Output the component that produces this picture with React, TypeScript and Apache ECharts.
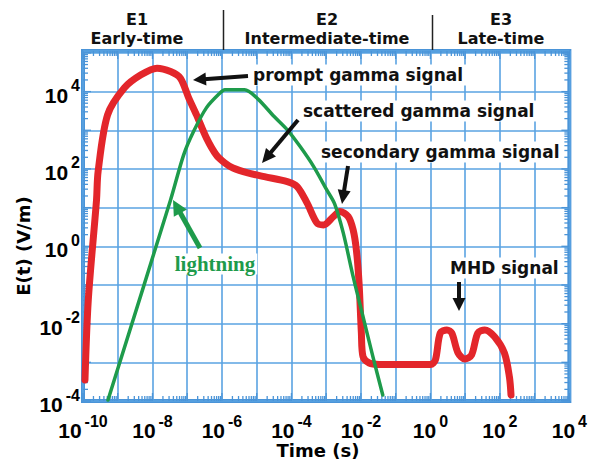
import React, { useEffect, useRef } from "react";
import * as echarts from "echarts";

// ---- data ----
const xMin = 1e-10;
const xMax = 1e4;
const yMin = 1e-4;
const yMax = 1.12e5;

const labeledXExponents = [-10, -8, -6, -4, -2, 0, 2, 4];
const labeledYExponents = [-4, -2, 0, 2, 4];

// red curve: prompt / scattered / secondary gamma + MHD
const redTime = [
  1.14e-10, 1.42e-10, 2.45e-10, 2.72e-10, 5.1e-10, 1.56e-9, 4.66e-9, 1.35e-8, 3.31e-8, 6.37e-8,
  1.1e-7, 1.85e-7, 3.56e-7, 6.84e-7, 1.21e-6, 2.08e-6, 5.55e-6, 1.66e-5, 7.6e-5, 1.46e-4,
  2.81e-4, 5.41e-4, 8.38e-4, 1.61e-3, 2.48e-3, 4.31e-3, 5.97e-3, 7.4e-3, 8.83e-3, 1.03e-2,
  1.15e-2, 1.73e-2, 3.33e-2, 1.0, 1.39, 1.92, 2.98, 4.13, 6.24, 9.86,
  15.3, 23.1, 36.6, 70.3, 135, 188, 209,
];
const redField = [
  3.5e-4, 0.041, 15.8, 85, 2500, 12500, 27100, 40400, 33000, 22200,
  6890, 2500, 635, 231, 143, 106, 79, 63, 47, 35,
  13.2, 4.0, 3.57, 5.85, 7.9, 5.85, 2.65, 0.8, 0.113, 0.0057,
  0.0014, 0.00096, 0.00088, 0.00088, 0.00115, 0.0057, 0.0069, 0.0057, 0.00175, 0.00122,
  0.00155, 0.0057, 0.0069, 0.0046, 0.00175, 0.00042, 0.000143,
];

// green curve: lightning
const greenTime = [
  5.24e-10, 3.31e-8, 7.9e-8, 1.52e-7, 3.56e-7, 8.71e-7, 1.21e-6, 4.48e-6, 1.07e-5, 3.18e-5,
  7.6e-5, 1.78e-4, 4.36e-4, 1.04e-3, 1.75e-3, 3.1e-3, 5.97e-3, 1.15e-2, 2.21e-2, 4.25e-2,
];
const greenField = [
  1.06e-4, 15.8, 231, 925, 3790, 9100, 11100, 11100, 6490, 2260,
  1023, 378, 115, 28.7, 12.5, 2.22, 0.164, 0.0151, 0.0014, 0.000143,
];

const regionCodes = ["E1", "E2", "E3"];
const regionNames = ["Early-time", "Intermediate-time", "Late-time"];

const annotationTexts = [
  "prompt gamma signal",
  "scattered gamma signal",
  "secondary gamma signal",
  "MHD signal",
];

// ---- helpers ----
const BLUE = "#4a94d8";
const GRID_BLUE = "#5aa3e2";
const RED = "#e3262b";
const GREEN = "#1e9b4b";

function expLabel(v: number, allowed: number[]) {
  const l = Math.log10(v);
  const e = Math.round(l);
  if (Math.abs(l - e) > 0.01 || allowed.indexOf(e) < 0) return "";
  return `{b|10}{s|${e}}`;
}

const richLabel = {
  b: {
    fontFamily: "Liberation Sans",
    fontWeight: "bold",
    fontSize: 21,
    color: "#000",
    lineHeight: 28,
    verticalAlign: "bottom",
  },
  s: {
    fontFamily: "Liberation Sans",
    fontWeight: "bold",
    fontSize: 16,
    color: "#000",
    lineHeight: 14,
    verticalAlign: "top",
    padding: [0, 0, 0, 3],
  },
};

function arrow(
  x1: number,
  y1: number,
  x2: number,
  y2: number,
  color: string,
  width: number,
  headLen: number,
  headW: number
) {
  const dx = x2 - x1;
  const dy = y2 - y1;
  const L = Math.hypot(dx, dy);
  const ux = dx / L;
  const uy = dy / L;
  const bx = x2 - ux * headLen;
  const by = y2 - uy * headLen;
  const px = -uy;
  const py = ux;
  return {
    type: "group",
    z: 100,
    children: [
      {
        type: "line",
        z: 100,
        shape: { x1, y1, x2: bx + ux * 2, y2: by + uy * 2 },
        style: { stroke: color, lineWidth: width },
      },
      {
        type: "polygon",
        z: 100,
        shape: {
          points: [
            [x2, y2],
            [bx + (px * headW) / 2, by + (py * headW) / 2],
            [bx - (px * headW) / 2, by - (py * headW) / 2],
          ],
        },
        style: { fill: color },
      },
    ],
  };
}

function buildTicks() {
  const out: number[][] = [];
  for (let k = -10; k <= 4; k++) {
    for (let m = 1; m <= 9; m++) {
      const v = m * Math.pow(10, k);
      if (v > xMax * 1.0001) break;
      const len = m === 1 ? 8 : 5;
      out.push([v, yMin, 0, -len]);
      out.push([v, yMax, 0, len]);
    }
  }
  for (let k = -4; k <= 5; k++) {
    for (let m = 1; m <= 9; m++) {
      const v = m * Math.pow(10, k);
      if (v > yMax) break;
      const len = m === 1 ? 8 : 5;
      out.push([xMin, v, len, 0]);
      out.push([xMax, v, -len, 0]);
    }
  }
  return out;
}

const annotationStyle = {
  fontFamily: "DejaVu Sans",
  fontWeight: "bold",
  fontSize: 17,
  fill: "#111",
  backgroundColor: "#fff",
  padding: [2, 3, 2, 3],
  align: "left",
  verticalAlign: "middle",
};

export default function App() {
  const ref = useRef<HTMLDivElement>(null);

  useEffect(() => {
    if (!ref.current) return;
    const chart = echarts.init(ref.current, undefined, { renderer: "svg" });

    const topLabelStyle = {
      fontFamily: "DejaVu Sans",
      fontWeight: "bold",
      fontSize: 16,
      fill: "#111",
      align: "center",
      verticalAlign: "middle",
    };
    const regionX = [137, 327, 501];

    const graphic: any[] = [];
    regionCodes.forEach((c, i) => {
      graphic.push({ type: "text", x: regionX[i], y: 19, style: { ...topLabelStyle, text: c } });
      graphic.push({
        type: "text",
        x: regionX[i],
        y: 38,
        style: { ...topLabelStyle, text: regionNames[i] },
      });
    });
    graphic.push({
      type: "line",
      shape: { x1: 223.5, y1: 10, x2: 223.5, y2: 50 },
      style: { stroke: "#222", lineWidth: 1.5 },
    });
    graphic.push({
      type: "line",
      shape: { x1: 432.5, y1: 15, x2: 432.5, y2: 50 },
      style: { stroke: "#222", lineWidth: 1.5 },
    });

    const annPos = [
      [250, 75],
      [300, 111],
      [318, 152],
      [447, 268],
    ];
    annotationTexts.forEach((t, i) => {
      graphic.push({
        type: "text",
        z: 90,
        x: annPos[i][0],
        y: annPos[i][1],
        style: { ...annotationStyle, text: t },
      });
    });
    graphic.push(arrow(248, 76, 193, 80, "#111", 4, 13, 13));
    graphic.push(arrow(298, 120, 262, 163, "#111", 4, 14, 13));
    graphic.push(arrow(348, 166, 342, 204, "#111", 4, 14, 13));
    graphic.push(arrow(459, 282, 459, 311, "#111", 4, 13, 13));

    graphic.push({
      type: "text",
      z: 90,
      x: 215,
      y: 264,
      style: {
        text: "lightning",
        fontFamily: "Liberation Serif",
        fontWeight: "bold",
        fontSize: 21,
        fill: GREEN,
        backgroundColor: "#fff",
        padding: [0, 2, 0, 2],
        align: "center",
        verticalAlign: "middle",
      },
    });
    graphic.push(arrow(200, 248, 173, 200, GREEN, 5, 15, 15));

    graphic.push({
      type: "text",
      x: 318,
      y: 450,
      style: {
        text: "Time (s)",
        fontFamily: "DejaVu Sans",
        fontWeight: "bold",
        fontSize: 18,
        fill: "#000",
        align: "center",
        verticalAlign: "middle",
      },
    });
    graphic.push({
      type: "text",
      x: 23,
      y: 246,
      rotation: Math.PI / 2,
      style: {
        text: "E(t) (V/m)",
        fontFamily: "DejaVu Sans",
        fontWeight: "bold",
        fontSize: 18,
        fill: "#000",
        align: "center",
        verticalAlign: "middle",
      },
    });

    const option: any = {
      animation: false,
      backgroundColor: "#fff",
      grid: {
        left: 83,
        right: 15,
        top: 51,
        bottom: 65,
        show: true,
        borderColor: BLUE,
        borderWidth: 4,
        backgroundColor: "transparent",
      },
      xAxis: {
        type: "log",
        logBase: 10,
        min: xMin,
        max: xMax,
        interval: 1,
        axisLine: { show: false },
        axisTick: { show: false },
        splitLine: { show: true, lineStyle: { color: GRID_BLUE, width: 1.6 } },
        axisLabel: {
          interval: 0,
          margin: 12,
          formatter: (v: number) => expLabel(v, labeledXExponents),
          rich: richLabel,
        },
      },
      yAxis: {
        type: "log",
        logBase: 10,
        min: yMin,
        max: yMax,
        interval: 1,
        axisLine: { show: false },
        axisTick: { show: false },
        splitLine: { show: true, lineStyle: { color: GRID_BLUE, width: 1.6 } },
        axisLabel: {
          interval: 0,
          margin: 3,
          formatter: (v: number) => expLabel(v, labeledYExponents),
          rich: richLabel,
        },
      },
      series: [
        {
          type: "custom",
          silent: true,
          clip: false,
          z: 3,
          dimensions: ["x", "y", "dx", "dy"],
          encode: { x: 0, y: 1 },
          data: buildTicks(),
          renderItem: (params: any, api: any) => {
            const p = api.coord([api.value(0), api.value(1)]);
            const dx = api.value(2);
            const dy = api.value(3);
            return {
              type: "line",
              shape: { x1: p[0], y1: p[1], x2: p[0] + dx, y2: p[1] + dy },
              style: { stroke: BLUE, lineWidth: 1.3 },
            };
          },
        },
        {
          type: "line",
          name: "gamma",
          data: redTime.map((t, i) => [t, redField[i]]),
          symbol: "none",
          smooth: 0.3,
          z: 5,
          lineStyle: { color: RED, width: 7, cap: "round", join: "round" },
        },
        {
          type: "line",
          name: "lightning",
          data: greenTime.map((t, i) => [t, greenField[i]]),
          symbol: "none",
          smooth: 0.3,
          z: 6,
          lineStyle: { color: GREEN, width: 3.5, cap: "round", join: "round" },
        },
      ],
      graphic,
    };

    chart.setOption(option);
    return () => chart.dispose();
  }, []);

  return (
    <div
      ref={ref}
      style={{ position: "absolute", left: 0, top: 0, width: 590, height: 466 }}
    />
  );
}
